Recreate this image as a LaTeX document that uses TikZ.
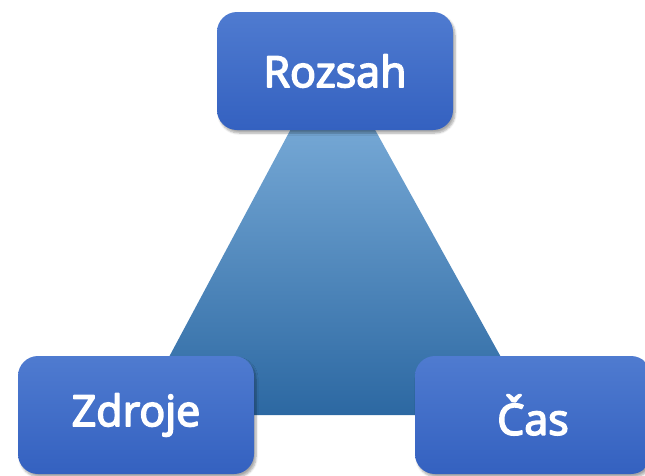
\documentclass[tikz,border=0pt]{standalone}
\usepackage{fontspec}
\setmainfont{Open Sans}
\usetikzlibrary{shadows.blur}
\definecolor{triTop}{HTML}{88B8E2}
\definecolor{triBot}{HTML}{2C68A2}
\definecolor{boxTop}{HTML}{4F7BD0}
\definecolor{boxBot}{HTML}{3461C0}
% medium-weight label text: fill and stroke the glyph outlines
\newcommand\medtext[1]{\special{pdf:code 1 j 2 Tr 1.6 w 1 1 1 RG}#1\special{pdf:code 0 Tr}}
\tikzset{
  topic/.style={rectangle, rounded corners=20pt, minimum width=236pt, minimum height=118pt,
    top color=boxTop, bottom color=boxBot, draw=none, text=white,
    font=\fontsize{43}{48}\selectfont,
    blur shadow={shadow xshift=2pt, shadow yshift=-3pt, shadow blur steps=6, shadow opacity=35}}
}
\begin{document}
\begin{tikzpicture}[x=1pt,y=-1pt]
\useasboundingbox (0,0) rectangle (645,475);
\clip (0,0) rectangle (645,475);
% the triangle behind the three labels
\coordinate (apex) at (332,52);
\coordinate (bl) at (138,415);
\coordinate (br) at (533,415);
\shade[top color=triTop, bottom color=triBot] (apex) -- (br) -- (bl) -- cycle;
% corner labels
\node[topic] (scope) at (335,71) {\medtext{Rozsah}};
\node[topic] (res) at (136,415) {\medtext{Zdroje}};
\node[topic] (time) at (533,415) {\medtext{Čas}};
\end{tikzpicture}
\end{document}
